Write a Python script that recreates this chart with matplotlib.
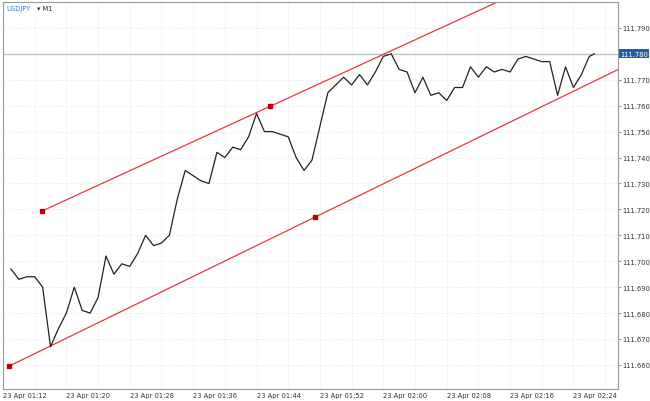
import matplotlib
matplotlib.use('Agg')
import matplotlib.pyplot as plt
import numpy as np

# minutes after 01:12 and close prices (M1)
minutes = [1 + i for i in range(74)] + [74.625]
prices = [111.697, 111.693, 111.694, 111.694, 111.690, 111.667, 111.674, 111.680, 111.690, 111.681,
          111.680, 111.686, 111.702, 111.695, 111.699, 111.698, 111.703, 111.710, 111.706, 111.707,
          111.710, 111.724, 111.735, 111.733, 111.731, 111.730, 111.742, 111.740, 111.744, 111.743,
          111.748, 111.757, 111.750, 111.750, 111.749, 111.748, 111.740, 111.735, 111.739, 111.752,
          111.765, 111.768, 111.771, 111.768, 111.772, 111.768, 111.773, 111.779, 111.780, 111.774,
          111.773, 111.765, 111.771, 111.764, 111.765, 111.762, 111.767, 111.767, 111.775, 111.771,
          111.775, 111.773, 111.774, 111.773, 111.778, 111.779, 111.778, 111.777, 111.777, 111.764,
          111.775, 111.767, 111.772, 111.779, 111.780]

last_price = 111.780
lower_pts = [(0.75, 111.6595), (39.375, 111.717)]
upper_pts = [(4.875, 111.7193), (33.75, 111.7598)]
tick_minutes = list(range(0, 80, 8))
tick_labels = ['23 Apr 01:%02d' % (12 + m) if 12 + m < 60 else '23 Apr 02:%02d' % (12 + m - 60)
               for m in tick_minutes]
y_ticks = np.round(np.arange(111.66, 111.7951, 0.01), 3)

RED = '#e8383d'
FS = 4.9
fig = plt.figure(figsize=(6.5, 4.02), dpi=100)
ax = fig.add_axes([3/650, 12/402, 615/650, 387/402])
xmin, xmax = 0.75, 77.625
ymin, ymax = 111.6507, 111.800
ax.set_xlim(xmin, xmax)
ax.set_ylim(ymin, ymax)

for m in range(0, 80, 4):
    ax.axvline(m, color='#dddddd', lw=0.6, ls=(0, (1, 2)), zorder=0)
for y in y_ticks:
    ax.axhline(y, color='#dddddd', lw=0.6, ls=(0, (1, 2)), zorder=0)

ax.axhline(last_price, color='#b8c4cc', lw=1, zorder=1)

for (x0, y0), (x1, y1) in (lower_pts, upper_pts):
    k = (y1 - y0) / (x1 - x0)
    xs = np.array([x0, xmax])
    ax.plot(xs, y0 + k * (xs - x0), color=RED, lw=0.9, zorder=2)
    ax.plot([x0, x1], [y0, y1], 's', color='#c00000', ms=2.5, zorder=3)

ax.plot(minutes, prices, color='#222222', lw=0.9, zorder=4)

ax.set_xticks(tick_minutes)
ax.set_xticklabels(tick_labels, ha='left', fontsize=FS, color='#333333')
ax.yaxis.tick_right()
ax.set_yticks(y_ticks)
ax.set_yticklabels(['' if abs(v - last_price) < 1e-6 else '%.3f' % v for v in y_ticks],
                   fontsize=FS, color='#333333')
ax.tick_params(axis='x', length=0, pad=2)
ax.tick_params(axis='y', length=2, color='#999999', pad=1)
for s in ax.spines.values():
    s.set_color('#999999')
    s.set_linewidth(0.8)

ax.text(1.0035, (last_price - ymin) / (ymax - ymin), '%.3f' % last_price,
        transform=ax.transAxes, fontsize=FS, color='white', va='center', ha='left',
        bbox=dict(boxstyle='square,pad=0.2', fc='#1f5fa8', ec='none'))
ax.text(0.005, 0.992, 'USDJPY', transform=ax.transAxes, fontsize=FS, color='#2f7fd8',
        va='top', ha='left')
ax.text(0.055, 0.992, '\u25be M1', transform=ax.transAxes, fontsize=FS, color='#333333',
        va='top', ha='left')

fig.savefig('out.png', dpi=100)
